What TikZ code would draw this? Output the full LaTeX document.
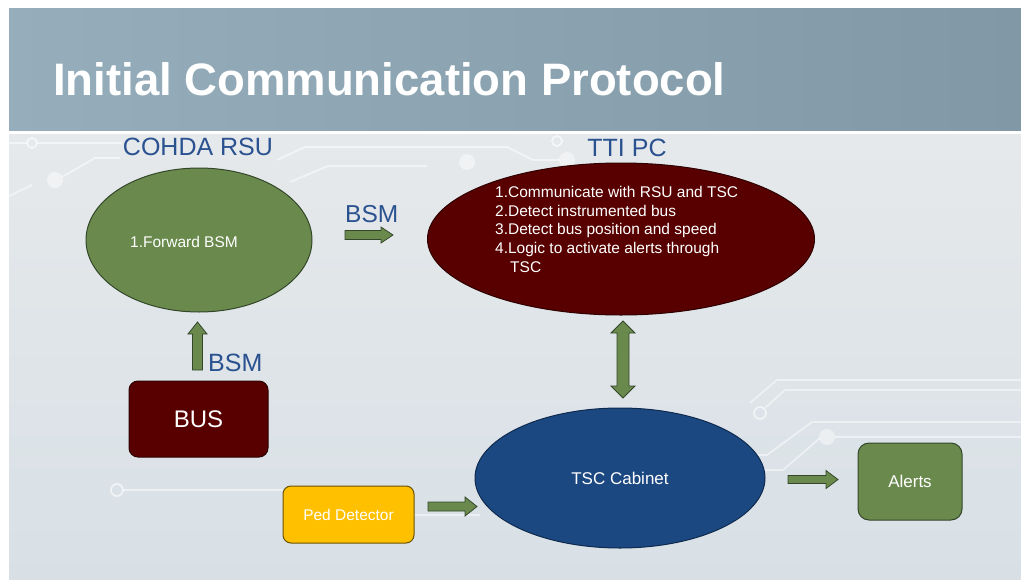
\documentclass[tikz,border=0pt]{standalone}
\usepackage{fontspec}
\setmainfont{Liberation Sans}
\usetikzlibrary{shapes.geometric}
\definecolor{bandL}{HTML}{96AEBB}
\definecolor{bandR}{HTML}{8199A6}
\definecolor{bgA}{HTML}{D8E0E6}
\definecolor{bgB}{HTML}{E6E9EB}
\definecolor{grn}{HTML}{6A8A4D}
\definecolor{grnD}{HTML}{34472A}
\definecolor{mar}{HTML}{580000}
\definecolor{marD}{HTML}{2E0000}
\definecolor{blu}{HTML}{1C4882}
\definecolor{bluD}{HTML}{0F2A4E}
\definecolor{amb}{HTML}{FFC000}
\definecolor{ambD}{HTML}{6B5200}
\definecolor{lbl}{HTML}{2A5190}
\tikzset{
  lbltxt/.style={text=lbl, font=\fontsize{25}{30}\selectfont, inner sep=0pt},
  wtxt/.style={text=white, inner sep=0pt},
  barrow/.style={fill=grn, draw=grnD, line width=0.8pt, line join=miter},
  trace/.style={draw=white, opacity=0.5, line width=1.8pt},
  ring/.style={draw=white, opacity=0.6, line width=1.8pt},
  glow/.style={fill=white, opacity=0.45},
  boxnode/.style={rounded corners=9pt, line width=1pt, inner sep=0pt},
  ellnode/.style={ellipse, line width=1pt, inner sep=0pt}
}
\begin{document}
\begin{tikzpicture}[x=1pt,y=-1pt]
\useasboundingbox (0,0) rectangle (1021,579);
\fill[white] (0,0) rectangle (1021,579);
% title band
\shade[left color=bandL, right color=bandR] (9,8) rectangle (1021,131);
\fill[white] (9,131) rectangle (1021,134);
% content background
\shade[top color=bgB, bottom color=bgA] (9,134) rectangle (1021,579);
% circuit traces
\draw[trace] (9,143) -- (27,143);
\draw[ring] (32,143) circle (5);
\draw[trace] (37,143) -- (122,143);
\draw[trace] (9,196) -- (32,185);
\fill[glow] (55,180) circle (8);
\draw[trace] (62,177) -- (95,158) -- (120,158);
\draw[trace] (277,160) -- (305,147) -- (507,147) -- (533,160) -- (560,160);
\fill[glow] (567,160) circle (8);
\draw[trace] (290,182) -- (328,166) -- (427,166);
\fill[glow] (467,162) circle (8);
\draw[ring] (557,141) circle (5);
\draw[trace] (750,403) -- (777,380) -- (1021,380);
\draw[ring] (760,413) circle (6);
\draw[trace] (765,408) -- (785,390) -- (1021,390);
\draw[trace] (752,455) -- (767,455) -- (812,422) -- (1021,422);
\fill[glow] (827,437) circle (8);
\draw[trace] (760,470) -- (783,470) -- (820,438);
\draw[trace] (835,437) -- (1021,437);
\draw[ring] (117,490) circle (6);
\draw[trace] (123,490) -- (283,490);
\draw[trace] (414,515) -- (480,515);
% title
\node[anchor=base west, text=white, font=\bfseries\fontsize{45.5}{50}\selectfont, inner sep=0pt] (title) at (53,95) {Initial Communication Protocol};
% labels
\node[lbltxt, anchor=base] (rsulbl) at (198,155) {COHDA RSU};
\node[lbltxt, anchor=base] (ttilbl) at (627,156) {TTI PC};
\node[lbltxt, anchor=base west, font=\fontsize{24.5}{30}\selectfont] (bsm1) at (345,222) {BSM};
\node[lbltxt, anchor=base west] (bsm2) at (208,371) {BSM};
% RSU ellipse
\node[ellnode, fill=grn, draw=grnD, minimum width=226, minimum height=144] (rsu) at (199,240) {};
\node[wtxt, font=\fontsize{15.5}{18}\selectfont] (rsutext) at (184,242) {1.Forward BSM};
% TTI PC ellipse
\node[ellnode, fill=mar, draw=marD, minimum width=387, minimum height=152] (tti) at (621,239) {};
\node[wtxt, anchor=north west, align=left, font=\fontsize{15.5}{18.7}\selectfont] (ttitext) at (495,186)
  {1.Communicate with RSU and TSC\\2.Detect instrumented bus\\3.Detect bus position and speed\\4.Logic to activate alerts through\\\hspace*{15pt}TSC};
% TSC ellipse
\node[ellnode, fill=blu, draw=bluD, minimum width=290, minimum height=140, wtxt, font=\fontsize{17}{20}\selectfont] (tsc) at (620,478) {TSC Cabinet};
% boxes
\node[boxnode, fill=mar, draw=marD, minimum width=139, minimum height=76, wtxt, font=\fontsize{24}{28}\selectfont] (bus) at (198.5,419) {BUS};
\node[boxnode, rounded corners=8pt, fill=amb, draw=ambD, minimum width=131, minimum height=57, wtxt, font=\fontsize{15.5}{18}\selectfont] (ped) at (348.5,514.5) {Ped Detector};
\node[boxnode, rounded corners=11pt, fill=grn, draw=grnD, minimum width=104, minimum height=77, wtxt, font=\fontsize{17}{20}\selectfont] (alerts) at (910,481.5) {Alerts};
% block arrows
\draw[barrow] (345,230.5) -- (381,230.5) -- (381,227) -- (393,235) -- (381,243) -- (381,239.5) -- (345,239.5) -- cycle;
\draw[barrow] (192.5,370) -- (192.5,334) -- (188,334) -- (197.5,322) -- (207,334) -- (202.5,334) -- (202.5,370) -- cycle;
\draw[barrow] (617,333) -- (611,333) -- (623,321) -- (635,333) -- (629,333) -- (629,386) -- (635,386) -- (623,398) -- (611,386) -- (617,386) -- cycle;
\draw[barrow] (428,502) -- (465,502) -- (465,497) -- (477,506.5) -- (465,516) -- (465,511) -- (428,511) -- cycle;
\draw[barrow] (788,475.5) -- (826,475.5) -- (826,470.5) -- (838,479.5) -- (826,488.5) -- (826,483.5) -- (788,483.5) -- cycle;
\end{tikzpicture}
\end{document}
